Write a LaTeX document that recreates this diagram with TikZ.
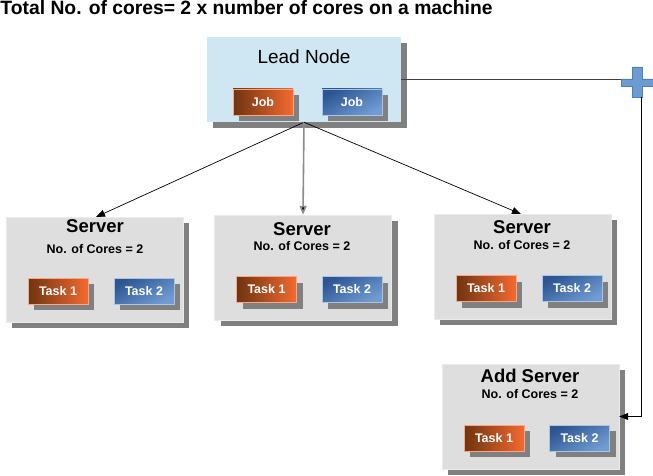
\documentclass[tikz,border=0pt]{standalone}
\usepackage{fontspec}
\setmainfont{Liberation Sans}
\usetikzlibrary{shadows,arrows.meta}
\definecolor{leadfill}{HTML}{CFE6F3}
\definecolor{srvfill}{HTML}{DEDEDE}
\definecolor{shd}{HTML}{808080}
\definecolor{orgA}{HTML}{6E3410}
\definecolor{orgB}{HTML}{F46A30}
\definecolor{bluA}{HTML}{2C5592}
\definecolor{bluB}{HTML}{709CD2}
\definecolor{plusc}{HTML}{6B9BD1}
\definecolor{plusd}{HTML}{4F7FB8}
\definecolor{midgray}{HTML}{8C8C8C}
\tikzset{
  boxshadow/.style={drop shadow={shadow xshift=6pt,shadow yshift=-6pt,fill=shd,opacity=1}},
  leadbox/.style={boxshadow,fill=leadfill,minimum width=194pt,minimum height=85pt,inner sep=0pt},
  srvbox/.style={boxshadow,fill=srvfill,draw=white!92!black,line width=0.4pt,minimum width=177pt,minimum height=105pt,inner sep=0pt},
  taskbox/.style={boxshadow,minimum width=60pt,minimum height=26pt,inner sep=0pt,text=white,font=\fontsize{12.5}{14}\selectfont\bfseries},
  orangebox/.style={taskbox,left color=orgA,right color=orgB,draw=orgB!60!white,line width=0.3pt},
  bluebox/.style={taskbox,top color=bluA,bottom color=bluB,shading angle=30,draw=bluB!60!white,line width=0.3pt},
  titletext/.style={anchor=base,font=\fontsize{18.5}{20}\selectfont\bfseries,inner sep=0pt},
  corestext/.style={anchor=base,font=\fontsize{12.5}{14}\selectfont\bfseries,inner sep=0pt},
  conn/.style={line width=0.7pt,-{Triangle[length=9pt,width=7pt]}},
}
\begin{document}
\begin{tikzpicture}[x=1pt,y=-1pt]
\useasboundingbox (0,0) rectangle (653,476);
% title
\node[anchor=base west,inner sep=0pt,font=\fontsize{19.3}{21}\selectfont\bfseries] (title) at (0.3,14.5) {Total No. of cores= 2 x number of cores on a machine};
% lead node
\node[leadbox] (lead) at (304,79.5) {};
\node[anchor=base,inner sep=0pt,font=\fontsize{19}{21}\selectfont] (leadt) at (304,64) {Lead Node};
\node[orangebox] (job1) at (263,102) {Job};
\node[bluebox] (job2) at (352,102) {Job};
% server 1
\node[srvbox] (s1) at (94.5,269.5) {};
\node[titletext] (s1t) at (95,232) {Server};
\node[corestext] (s1c) at (95,253.5) {No. of Cores = 2};
\node[orangebox] (s1a) at (58,291) {Task 1};
\node[bluebox] (s1b) at (144,291) {Task 2};
% server 2
\node[srvbox] (s2) at (303,267.5) {};
\node[titletext] (s2t) at (302,235) {Server};
\node[corestext] (s2c) at (302,250) {No. of Cores = 2};
\node[orangebox] (s2a) at (266.5,289.5) {Task 1};
\node[bluebox] (s2b) at (352,289.5) {Task 2};
% server 3
\node[srvbox] (s3) at (522.5,266.5) {};
\node[titletext] (s3t) at (522,233) {Server};
\node[corestext] (s3c) at (522,249) {No. of Cores = 2};
\node[orangebox] (s3a) at (486,288.5) {Task 1};
\node[bluebox] (s3b) at (572,288.5) {Task 2};
% add server
\node[srvbox] (s4) at (530.5,416.5) {};
\node[titletext] (s4t) at (530,382) {Add Server};
\node[corestext] (s4c) at (530,398) {No. of Cores = 2};
\node[orangebox] (s4a) at (494,438) {Task 1};
\node[bluebox] (s4b) at (579.5,438) {Task 2};
% plus sign
\filldraw[fill=plusc,draw=plusd,line width=0.5pt] (621,79)--(632,79)--(632,67)--(642,67)--(642,79)--(653,79)--(653,86)--(642,86)--(642,97)--(632,97)--(632,86)--(621,86)--cycle;
\coordinate (plusL) at (621,79.5);
\coordinate (plusB) at (641,97);
\coordinate (s1top) at (96,217);
\coordinate (s3top) at (521,214);
% connectors
\draw[conn] (lead.south) -- (s1top);
\draw[conn,draw=midgray,line width=1.6pt,-{Triangle[length=9pt,width=7pt,fill=black]}] (lead.south) -- (s2.north);
\draw[conn] (lead.south) -- (s3top);
\draw[line width=0.7pt,draw=black!75] (lead.east) -- (plusL);
\draw[conn] (plusB) |- (s4.east);
\end{tikzpicture}
\end{document}
